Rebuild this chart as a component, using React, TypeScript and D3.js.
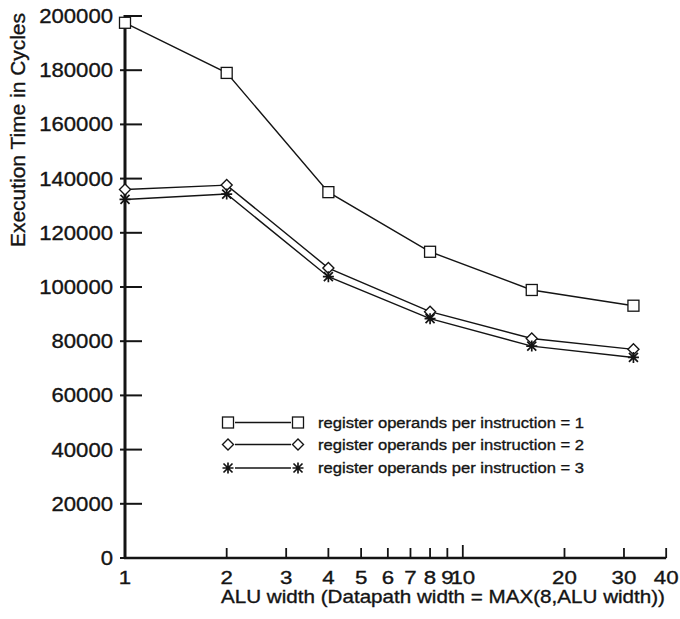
import React from "react";
import * as d3 from "d3";

const xValues = [1, 2, 4, 8, 16, 32];
const series1 = [197500, 179000, 135000, 113000, 98900, 93100];
const series2 = [136000, 137600, 107000, 90900, 81000, 77000];
const series3 = [132300, 134300, 103800, 88300, 78200, 74000];
const seriesNames = [
  "register operands per instruction = 1",
  "register operands per instruction = 2",
  "register operands per instruction = 3",
];
const seriesMarkers = ["square", "diamond", "star"];
const xTicks = [1, 2, 3, 4, 5, 6, 7, 8, 9, 10, 20, 30, 40];
const xTickLabels = ["1", "2", "3", "4", "5", "6", "7", "8", "9", "10", "20", "30", "40"];
const yTicks = [0, 20000, 40000, 60000, 80000, 100000, 120000, 140000, 160000, 180000, 200000];
const xTitle = "ALU width (Datapath width = MAX(8,ALU width))";
const yTitle = "Execution Time in Cycles";

const FONT = "'Liberation Sans', Arial, Helvetica, sans-serif";
const INK = "#141414";

function Marker({ type, x, y }: { type: string; x: number; y: number }) {
  if (type === "square") {
    return <rect x={x - 5.5} y={y - 5.5} width={11} height={11} fill="#fff" stroke={INK} strokeWidth={1.3} />;
  }
  if (type === "diamond") {
    const r = 5.5;
    return (
      <path
        d={`M${x},${y - r}L${x + r},${y}L${x},${y + r}L${x - r},${y}Z`}
        fill="#fff"
        stroke={INK}
        strokeWidth={1.4}
      />
    );
  }
  const r = 5.5;
  const d = 4.5;
  return (
    <path
      d={`M${x},${y - r}L${x},${y + r}M${x - d},${y - d}L${x + d},${y + d}M${x - d},${y + d}L${x + d},${y - d}M${x - r},${y}L${x + r},${y}`}
      stroke={INK}
      strokeWidth={1.7}
      fill="none"
    />
  );
}

export default function App() {
  const x = d3.scaleLog().domain([1, 40]).range([125, 125 + 337.8 * Math.log10(40)]);
  const y = d3.scaleLinear().domain([0, 200000]).range([558, 16]);
  const allSeries = [series1, series2, series3];
  const line = d3
    .line<number>()
    .x((_, i) => x(xValues[i]))
    .y((v) => y(v));

  const legendRows = [422.5, 444.5, 468];
  const textStroke = { stroke: INK, strokeWidth: 0.35 };

  return (
    <svg
      width={680}
      height={619}
      style={{ position: "absolute", left: 0, top: 0, background: "#fff" }}
      fontFamily={FONT}
    >
      <rect width={680} height={619} fill="#fff" />
      {/* series lines */}
      {allSeries.map((s, k) => (
        <path key={k} d={line(s) || ""} fill="none" stroke={INK} strokeWidth={1.4} />
      ))}
      {/* axes */}
      <line x1={x(1)} x2={x(1)} y1={y(200000) - 1} y2={y(0) + 1} stroke={INK} strokeWidth={3} />
      <line x1={x(1) - 1} x2={x(40)} y1={y(0)} y2={y(0)} stroke={INK} strokeWidth={2.5} />
      {/* y ticks */}
      {yTicks.map((t) => (
        <g key={t}>
          <line x1={t === 200000 ? x(1) : x(1) - 5} x2={x(1) + 17} y1={y(t)} y2={y(t)} stroke={INK} strokeWidth={2} />
          <text
            x={113}
            y={y(t) + 7}
            textAnchor="end"
            fontSize={20}
            fill={INK}
            {...textStroke}
            textLength={String(t).length * 12.3}
            lengthAdjust="spacingAndGlyphs"
          >
            {String(t)}
          </text>
        </g>
      ))}
      {/* x ticks */}
      {xTicks.map((t, i) => (
        <g key={t}>
          {t !== 1 && (
            <line
              x1={x(t)}
              x2={x(t)}
              y1={y(0)}
              y2={y(0) - (t === 10 ? 13 : 10)}
              stroke={INK}
              strokeWidth={1.8}
            />
          )}
          <text
            x={x(t)}
            y={583.5}
            textAnchor="middle"
            fontSize={19}
            fill={INK}
            {...textStroke}
            textLength={xTickLabels[i].length * 12.4}
            lengthAdjust="spacingAndGlyphs"
          >
            {xTickLabels[i]}
          </text>
        </g>
      ))}
      {/* markers */}
      {allSeries.map((s, k) =>
        s.map((v, i) => <Marker key={`${k}-${i}`} type={seriesMarkers[k]} x={x(xValues[i])} y={y(v)} />)
      )}
      {/* axis titles */}
      <text
        x={221}
        y={602.5}
        fontSize={18.5}
        fill={INK}
        {...textStroke}
        textLength={444}
        lengthAdjust="spacingAndGlyphs"
      >
        {xTitle}
      </text>
      <text
        transform="translate(24.5,130) rotate(-90)"
        textAnchor="middle"
        fontSize={21}
        fill={INK}
        {...textStroke}
        textLength={234}
        lengthAdjust="spacingAndGlyphs"
      >
        {yTitle}
      </text>
      {/* legend */}
      {seriesNames.map((name, k) => (
        <g key={name}>
          <line x1={235} x2={291} y1={legendRows[k]} y2={legendRows[k]} stroke={INK} strokeWidth={1.3} />
          <Marker type={seriesMarkers[k]} x={228} y={legendRows[k]} />
          <Marker type={seriesMarkers[k]} x={298} y={legendRows[k]} />
          <text
            x={318}
            y={legendRows[k] + 5}
            fontSize={15.5}
            fill={INK}
            {...textStroke}
            textLength={266}
            lengthAdjust="spacingAndGlyphs"
          >
            {name}
          </text>
        </g>
      ))}
    </svg>
  );
}
